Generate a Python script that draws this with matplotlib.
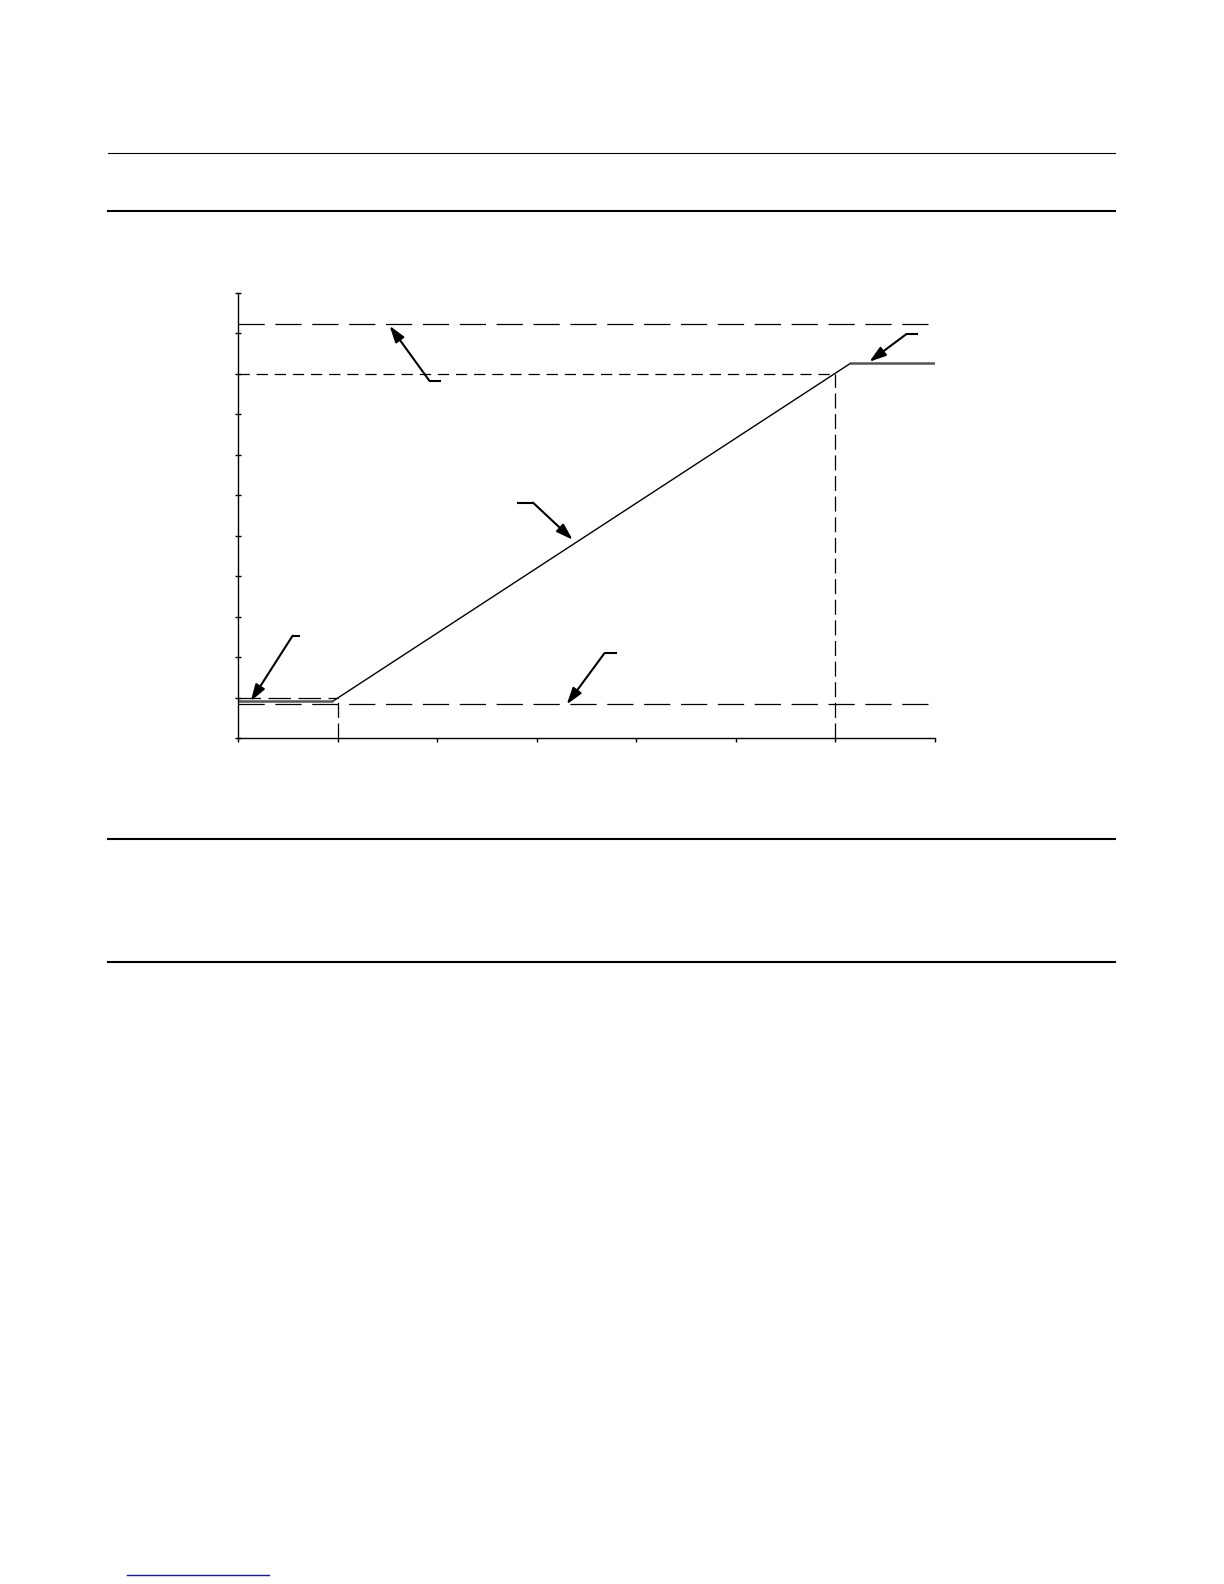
import matplotlib
matplotlib.use('Agg')
import matplotlib.pyplot as plt
from matplotlib.lines import Line2D

W, H = 1224, 1584

# axis frame (no labels in the reference)
x_ticks = [0, 1, 2, 3, 4, 5, 6, 7]
y_ticks = [0, 1, 2, 3, 4, 5, 6, 7, 8, 9, 10, 11]

# response curve: flat, ramp, flat
curve_x = [0.0, 0.95, 6.15, 7.0]
curve_y = [0.91, 0.91, 9.26, 9.26]

# dashed reference levels
upper_limit = 10.23
upper_level = 9.0
lower_level = 0.83
start_level = 1.0
ramp_start_x = 1.0
ramp_end_x = 6.0

# callout arrows: (tip x, tip y, elbow x, elbow y, tail end x)
callouts = [
    (1.52, 10.19, 1.92, 8.83, 2.04),
    (6.34, 9.30, 6.71, 9.98, 6.83),
    (3.36, 4.90, 2.96, 5.82, 2.80),
    (0.125, 0.91, 0.546, 2.53, 0.62),
    (3.30, 0.83, 3.68, 2.10, 3.80),
]

fig = plt.figure(figsize=(W / 100, H / 100), dpi=100)

# page rules
for y, lw in [(153.3, 0.8), (210.7, 1.5), (839.3, 1.5), (961.7, 1.5)]:
    fig.add_artist(Line2D([108 / W, 1115 / W], [1 - y / H, 1 - y / H],
                          color='black', lw=lw, transform=fig.transFigure))
fig.add_artist(Line2D([127 / W, 269 / W], [1 - 1575.3 / H, 1 - 1575.3 / H],
                      color='#1c1c84', lw=1.0, transform=fig.transFigure))

ax = fig.add_axes([238.3 / W, 1 - 738 / H, (935 - 238.3) / W, (738 - 293) / H])
ax.set_xlim(0, 7)
ax.set_ylim(0, 11)
ax.set_xticks(x_ticks)
ax.set_yticks(y_ticks)
ax.set_xticklabels([])
ax.set_yticklabels([])
for s in ['top', 'right']:
    ax.spines[s].set_visible(False)
for s in ['left', 'bottom']:
    ax.spines[s].set_linewidth(1.0)
ax.tick_params(axis='x', direction='out', length=3, width=1.0)
ax.tick_params(axis='y', direction='inout', length=4, width=1.0)

# dashed lines
ax.plot([0, 7], [upper_limit, upper_limit], color='black', lw=0.9, dashes=(21, 8.5))
ax.plot([0, ramp_end_x], [upper_level, upper_level], color='black', lw=0.9, dashes=(9, 5.5))
ax.plot([ramp_end_x, ramp_end_x], [0, upper_level], color='black', lw=0.9, dashes=(12, 4.5))
ax.plot([0, 7], [lower_level, lower_level], color='black', lw=0.9, dashes=(21, 8.5))
ax.plot([0, ramp_start_x], [start_level, start_level], color='black', lw=0.9, dashes=(18, 6))
ax.plot([ramp_start_x, ramp_start_x], [0, start_level], color='black', lw=0.9, dashes=(12, 4.5))

# curve
ax.plot(curve_x[1:3], curve_y[1:3], color='black', lw=1.0)
ax.plot(curve_x[0:2], curve_y[0:2], color='#555555', lw=1.8, solid_capstyle='butt')
ax.plot(curve_x[2:4], curve_y[2:4], color='#555555', lw=1.8, solid_capstyle='butt')

# callouts
for tx, ty, ex, ey, hx in callouts:
    ax.plot([ex, hx], [ey, ey], color='black', lw=1.5, solid_capstyle='butt')
    ax.annotate('', xy=(tx, ty), xytext=(ex, ey),
                arrowprops=dict(arrowstyle='-|>,head_length=1.0,head_width=0.32',
                                color='black', lw=1.5, shrinkA=0, shrinkB=0))

plt.savefig('out.png', dpi=100)
